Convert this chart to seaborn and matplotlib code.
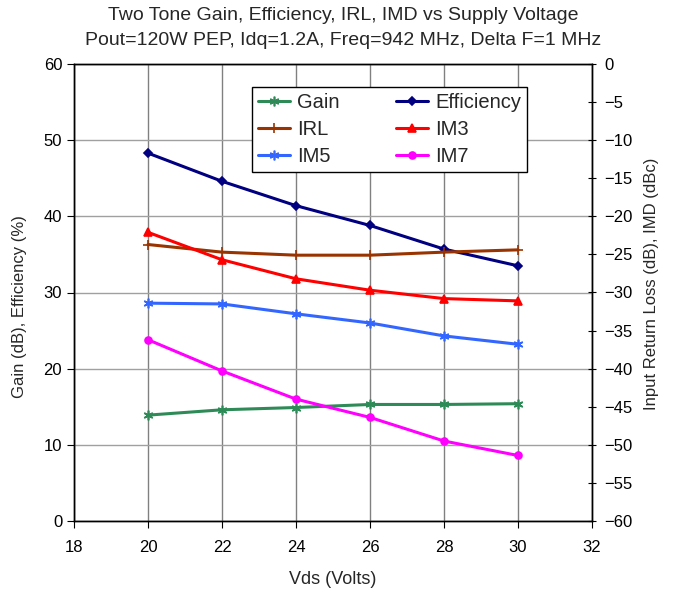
import pandas as pd
import matplotlib
matplotlib.use("Agg")
import matplotlib.pyplot as plt
import seaborn as sns

# ==========================================
# DATA
# ==========================================

vds = [20, 22, 24, 26, 28, 30]

# left axis: Gain (dB), Efficiency (%)
gain = [13.9, 14.6, 14.9, 15.3, 15.3, 15.4]
efficiency = [48.3, 44.6, 41.4, 38.8, 35.7, 33.5]

# right axis: IRL (dB), IMD (dBc)
irl = [-23.7, -24.7, -25.1, -25.1, -24.7, -24.4]
im3 = [-22.1, -25.7, -28.2, -29.7, -30.8, -31.1]
im5 = [-31.4, -31.5, -32.8, -34.0, -35.7, -36.8]
im7 = [-36.2, -40.3, -44.0, -46.4, -49.5, -51.4]

left_df = pd.DataFrame({"Vds": vds, "Gain": gain, "Efficiency": efficiency})
right_df = pd.DataFrame({"Vds": vds, "IRL": irl, "IM3": im3, "IM5": im5, "IM7": im7})

# ==========================================
# STYLE
# ==========================================

sns.set_style("white")
plt.rcParams["font.family"] = ["Liberation Sans", "DejaVu Sans"]

star = (6, 2, 0)  # asterisk marker like Excel's star
styles = {
    "Gain": ("#2E8B57", star, 7),
    "Efficiency": ("#000080", "D", 4),
    "IRL": ("#993300", "+", 7),
    "IM3": ("#FF0000", "^", 6),
    "IM5": ("#3366FF", star, 7),
    "IM7": ("#FF00FF", "o", 5),
}

fig = plt.figure(figsize=(6.77, 5.92), dpi=100)
ax = fig.add_axes([74 / 677, 1 - 521 / 592, 518 / 677, 457 / 592])
ax2 = ax.twinx()

handles = {}

for name in ["Gain", "Efficiency"]:
    color, marker, ms = styles[name]
    sns.lineplot(data=left_df, x="Vds", y=name, ax=ax, color=color,
                 marker=marker, markersize=ms, linewidth=2.2,
                 markeredgecolor=color, markeredgewidth=1.2,
                 label=name, legend=False)
    handles[name] = ax.lines[-1]

for name in ["IRL", "IM3", "IM5", "IM7"]:
    color, marker, ms = styles[name]
    sns.lineplot(data=right_df, x="Vds", y=name, ax=ax2, color=color,
                 marker=marker, markersize=ms, linewidth=2.2,
                 markeredgecolor=color, markeredgewidth=1.2,
                 label=name, legend=False)
    handles[name] = ax2.lines[-1]

# ==========================================
# AXES
# ==========================================

ax.set_xlim(18, 32)
ax.set_xticks(range(18, 33, 2))
ax.set_ylim(0, 60)
ax.set_yticks(range(0, 61, 10))
ax2.set_ylim(-60, 0)
ax2.set_yticks(range(-60, 1, 5))

ax.grid(True, axis="x", color="#808080", linewidth=1.0)
ax.grid(True, axis="y", color="#A0A0A0", linewidth=1.0)
ax.set_axisbelow(True)

for a in (ax, ax2):
    for s in a.spines.values():
        s.set_color("black")
        s.set_linewidth(1.0)

ax.tick_params(axis="both", labelsize=12, length=5, direction="out",
               left=True, bottom=True, colors="black")
ax.tick_params(axis="x", pad=9)
ax2.tick_params(axis="y", labelsize=12, length=6, direction="inout",
                right=True, colors="black", pad=6)

ax.set_xlabel("Vds (Volts)", fontsize=13, labelpad=11)
ax.set_ylabel("Gain (dB), Efficiency (%)", fontsize=12)
ax.yaxis.set_label_coords(-0.09, 0.47)
ax2.set_ylabel("Input Return Loss (dB), IMD (dBc)", fontsize=12)
ax2.yaxis.set_label_coords(1.10, 0.52)

fig.text(0.507, 1 - 7 / 592,
         "Two Tone Gain, Efficiency, IRL, IMD vs Supply Voltage\n"
         "Pout=120W PEP, Idq=1.2A, Freq=942 MHz, Delta F=1 MHz",
         fontsize=14, ha="center", va="top", linespacing=1.6)

order = ["Gain", "IRL", "IM5", "Efficiency", "IM3", "IM7"]
leg = ax2.legend([handles[n] for n in order], order, ncol=2,
                 loc="upper left", bbox_to_anchor=(0.3436, 0.9497),
                 borderaxespad=0, fontsize=14.5, frameon=True,
                 fancybox=False, edgecolor="black", framealpha=1,
                 borderpad=0.3, handlelength=1.6, handletextpad=0.35,
                 columnspacing=2.8, labelspacing=0.4)
leg.get_frame().set_linewidth(1.0)

plt.savefig("out.png", dpi=100)
